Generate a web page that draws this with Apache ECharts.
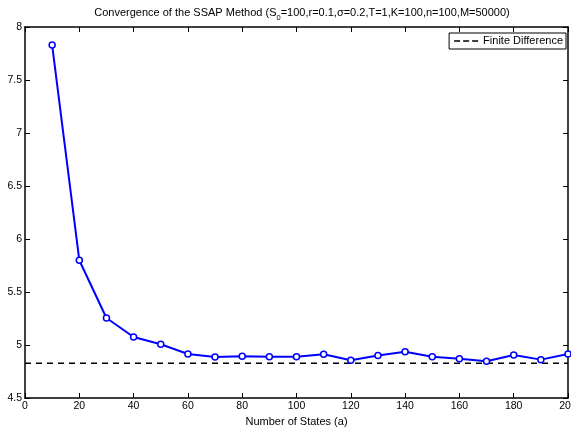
<!DOCTYPE html>
<html>
<head>
<meta charset="utf-8">
<script src="https://cdn.jsdelivr.net/npm/echarts@6/dist/echarts.min.js"></script>
<style>html,body{margin:0;padding:0;background:#fff}#c{width:571px;height:427px}</style>
</head>
<body>
<div id="c"></div>
<script>
var states = [10,20,30,40,50,60,70,80,90,100,110,120,130,140,150,160,170,180,190,200];
var ssapPrices = [7.83,5.80,5.255,5.075,5.007,4.915,4.887,4.893,4.89,4.89,4.912,4.856,4.90,4.937,4.89,4.871,4.846,4.906,4.862,4.915];
var finiteDiffValue = 4.827;
var finiteDiffRange = [0, 200];
var xTicks = {min: 0, max: 200, interval: 20};
var yTicks = {min: 4.5, max: 8, interval: 0.5};

var chart = echarts.init(document.getElementById('c'), null, {renderer: 'canvas'});
var font = 'Liberation Sans, Arial, Helvetica, sans-serif';
var ssapData = states.map(function (s, i) { return [s, ssapPrices[i]]; });
var fdData = finiteDiffRange.map(function (x) { return [x, finiteDiffValue]; });

function axisCommon(show) {
  return {
    axisLine: {show: true, onZero: false, lineStyle: {color: '#000', width: 1.5}},
    axisTick: {show: true, inside: true, length: 5, lineStyle: {color: '#000', width: 1}},
    axisLabel: {show: show, color: '#000', fontFamily: font, fontSize: 10.5, margin: 3, hideOverlap: false},
    splitLine: {show: false}
  };
}

var option = {
  animation: false,
  backgroundColor: '#fff',
  title: {
    left: 297, textAlign: 'center', top: 0,
    text: '{a|Convergence of the SSAP Method (S}{s|0}{a|=100,r=0.1,σ=0.2,T=1,K=100,n=100,M=50000)}',
    textStyle: {
      fontWeight: 'normal',
      rich: {
        a: {fontFamily: font, fontSize: 11, fontWeight: 'normal', color: '#000', lineHeight: 15},
        s: {fontFamily: font, fontSize: 7.5, fontWeight: 'normal', color: '#000', lineHeight: 15, padding: [10, 0, 0, 0]}
      }
    }
  },
  legend: {
    right: 5, top: 33,
    orient: 'horizontal',
    data: [{name: 'Finite Difference',
      icon: 'path://M0,0h6v1.5h-6z M9,0h6v1.5h-6z M18,0h6v1.5h-6z',
      itemStyle: {color: '#000', borderWidth: 0}}],
    borderColor: '#000', borderWidth: 1, borderRadius: 0,
    padding: [1, 3, 1, 5],
    itemWidth: 24, itemHeight: 2, itemGap: 4,
    backgroundColor: '#fff',
    textStyle: {fontFamily: font, fontSize: 11, color: '#000', lineHeight: 14}
  },
  grid: {left: 25, right: 3, top: 27, bottom: 29, containLabel: false, outerBoundsMode: 'none'},
  xAxis: [
    Object.assign({type: 'value', position: 'bottom', min: xTicks.min, max: xTicks.max, interval: xTicks.interval,
      name: 'Number of States (a)', nameLocation: 'middle', nameGap: 15,
      nameTextStyle: {fontFamily: font, fontSize: 11, color: '#000'}}, axisCommon(true)),
    Object.assign({type: 'value', position: 'top', min: xTicks.min, max: xTicks.max, interval: xTicks.interval}, axisCommon(false))
  ],
  yAxis: [
    Object.assign({type: 'value', position: 'left', min: yTicks.min, max: yTicks.max, interval: yTicks.interval}, axisCommon(true)),
    Object.assign({type: 'value', position: 'right', min: yTicks.min, max: yTicks.max, interval: yTicks.interval}, axisCommon(false))
  ],
  series: [
    {
      name: 'SSAP', type: 'line', data: ssapData,
      xAxisIndex: 0, yAxisIndex: 0,
      symbol: 'circle', symbolSize: 6, showAllSymbol: true,
      lineStyle: {color: '#0000ff', width: 2},
      itemStyle: {color: '#fff', borderColor: '#0000ff', borderWidth: 1.5},
      z: 3
    },
    {
      name: 'Finite Difference', type: 'line', data: fdData,
      xAxisIndex: 0, yAxisIndex: 0,
      symbol: 'none',
      lineStyle: {color: '#000', width: 1.5, type: [6, 5]},
      itemStyle: {color: '#000'},
      z: 2
    }
  ]
};
chart.setOption(option);
</script>
</body>
</html>
